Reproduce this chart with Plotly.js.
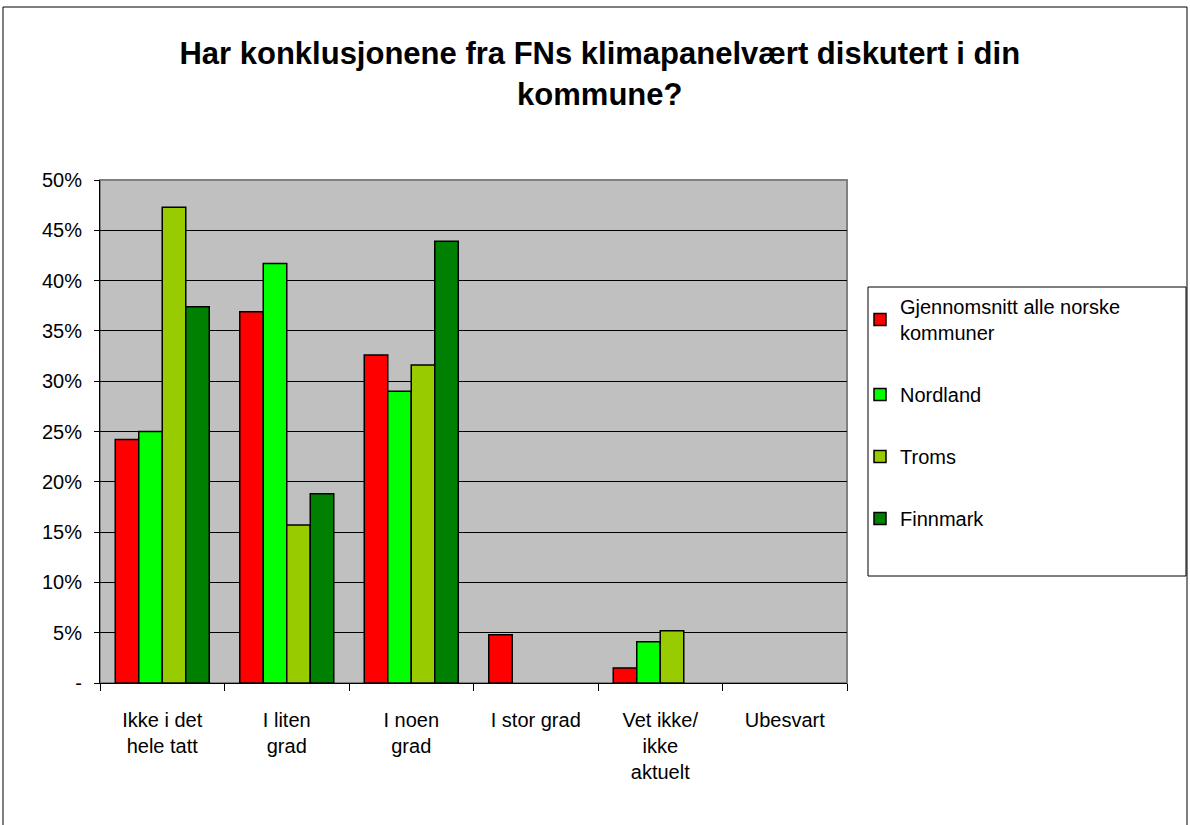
<!DOCTYPE html>
<html>
<head>
<meta charset="utf-8">
<script src="https://cdn.plot.ly/plotly-3.0.1.min.js"></script>
<style>
  body { margin: 0; background: #fff; }
  #plot { width: 1190px; height: 825px; }
</style>
</head>
<body>
<div id="plot"></div>
<script>
const categories = ['Ikke i det<br>hele tatt', 'I liten<br>grad', 'I noen<br>grad', 'I stor grad', 'Vet ikke/<br>ikke<br>aktuelt', 'Ubesvart'];

const seriesNames = ['Gjennomsnitt alle norske<br>kommuner', 'Nordland', 'Troms', 'Finnmark'];
// null = no bar drawn in the original
const snittAlle = [24.2, 36.9, 32.6, 4.8, 1.5, null];
const nordland = [25.0, 41.7, 29.0, null, 4.1, null];
const troms = [47.3, 15.7, 31.6, null, 5.2, null];
const finnmark = [37.4, 18.8, 43.9, null, null, null];
const colors = ['#ff0000', '#00ff00', '#99cc00', '#008000'];

const yTicks = [0, 5, 10, 15, 20, 25, 30, 35, 40, 45, 50];
const yTickText = ['-', '5%', '10%', '15%', '20%', '25%', '30%', '35%', '40%', '45%', '50%'];

const font = 'Liberation Sans, Arial, sans-serif';

const data = [snittAlle, nordland, troms, finnmark].map((vals, i) => ({
    x: categories,
    y: vals,
    type: 'bar',
    name: seriesNames[i],
    legendgroup: 'g' + i,
    marker: { color: colors[i], line: { color: '#000', width: 1.5 } },
    hoverinfo: 'y'
}));

// plot area: 100..847 px wide, 180..683 px tall
const px = p => (p - 100) / 747;
const py = p => (683 - p) / 503;

const layout = {
    width: 1190,
    height: 825,
    margin: { l: 100, r: 343, t: 180, b: 142 },
    paper_bgcolor: '#fff',
    plot_bgcolor: '#c0c0c0',
    font: { family: font, size: 20, color: '#000' },
    title: {
        text: '<b>Har konklusjonene fra FNs klimapanelvært diskutert i din<br>kommune?</b>',
        font: { family: font, size: 31, color: '#000' },
        x: 0.504, xanchor: 'center',
        y: 0.922, yanchor: 'top'
    },
    barmode: 'group',
    bargap: 0.245,
    bargroupgap: 0,
    showlegend: true,
    legend: {
        x: px(860), xanchor: 'left',
        y: py(287), yanchor: 'top',
        bgcolor: 'rgba(0,0,0,0)',
        borderwidth: 0,
        tracegroupgap: 33,
        font: { family: font, size: 20, color: '#000' }
    },
    xaxis: {
        type: 'category',
        tickson: 'boundaries',
        ticks: 'outside',
        ticklen: 7,
        tickcolor: '#000',
        showline: true,
        linecolor: '#000',
        linewidth: 1,
        showgrid: false,
        tickangle: 0,
        ticklabelstandoff: 19,
        tickfont: { family: font, size: 20, color: '#000' }
    },
    yaxis: {
        range: [0, 50],
        tickvals: yTicks,
        ticktext: yTickText,
        ticks: 'outside',
        ticklen: 5,
        tickcolor: '#000',
        showline: true,
        linecolor: '#000',
        linewidth: 1,
        showgrid: true,
        gridcolor: '#000',
        gridwidth: 1,
        zeroline: false,
        ticklabelstandoff: 8,
        tickfont: { family: font, size: 20, color: '#000' }
    },
    shapes: [
        {
            type: 'rect', xref: 'paper', yref: 'paper',
            x0: 0, x1: 1, y0: 0, y1: 1,
            line: { color: '#808080', width: 2 }, layer: 'below'
        },
        {
            // outer chart frame
            type: 'rect', xref: 'paper', yref: 'paper',
            x0: px(3), x1: px(1187), y0: py(900), y1: py(7),
            line: { color: '#000', width: 1 }
        },
        {
            // legend box
            type: 'rect', xref: 'paper', yref: 'paper',
            x0: px(868), x1: px(1186), y0: py(576), y1: py(287),
            fillcolor: '#fff',
            line: { color: '#000', width: 1 }
        }
    ]
};

Plotly.newPlot('plot', data, layout, { displayModeBar: false, staticPlot: true });
</script>
</body>
</html>
